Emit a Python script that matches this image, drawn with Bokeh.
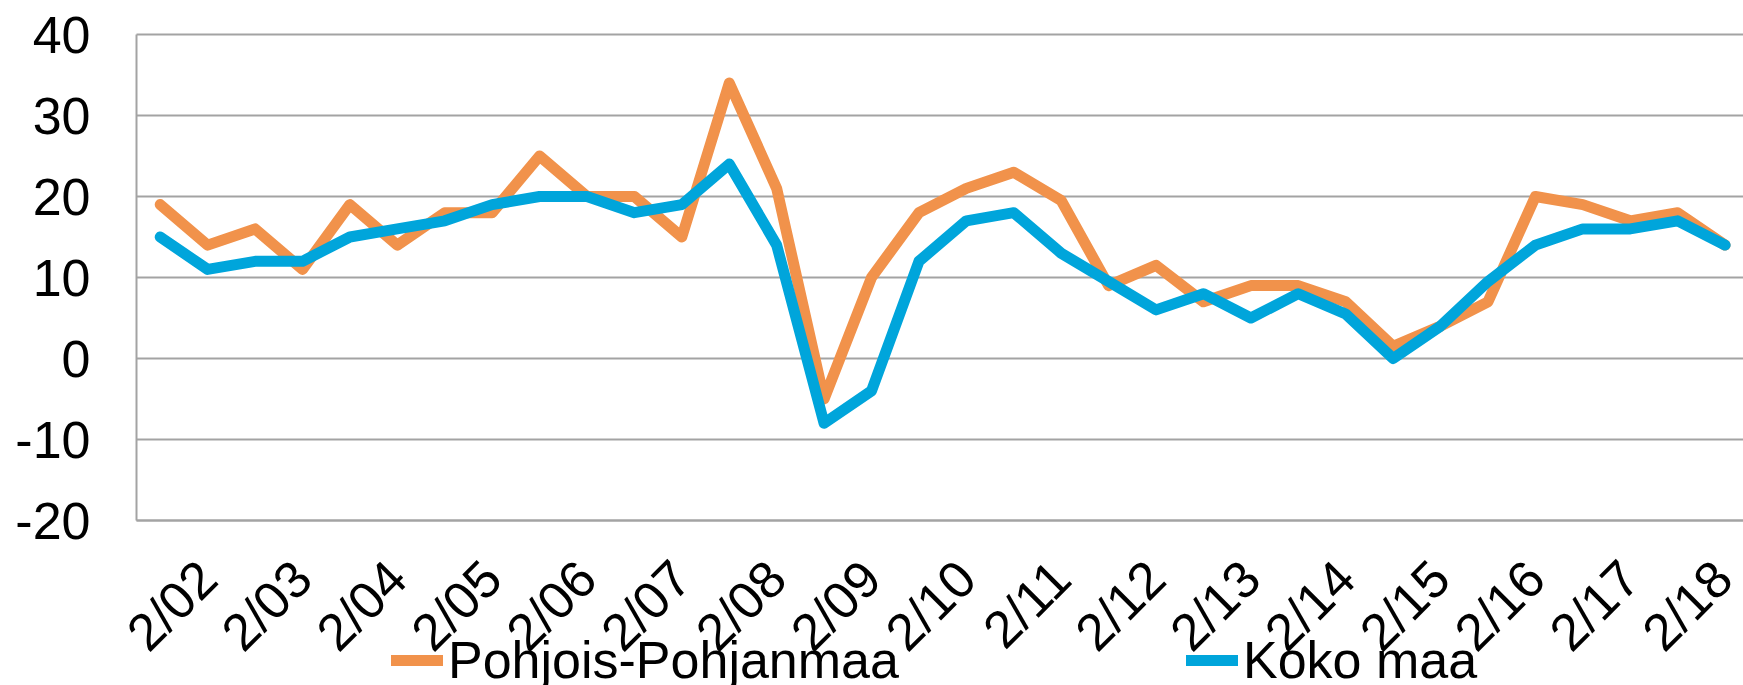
import math
from bokeh.plotting import figure
from bokeh.models import (Range1d, FixedTicker, Legend, LegendItem, ColumnDataSource,
                          Grid, BoxAnnotation)
from bokeh.embed import file_html
from bokeh.resources import INLINE

# ---- data -------------------------------------------------------------
periods = ["8/01"]
for yy in range(2, 19):
    periods.append("2/%02d" % yy)
    if yy < 18:
        periods.append("8/%02d" % yy)

pohjois_pohjanmaa = [19, 14, 16, 11, 19, 14, 18, 18, 25, 20,
                     20, 15, 34, 21, -5, 10, 18, 21, 23, 19.5,
                     9, 11.5, 7, 9, 9, 7, 1.5, 4, 7, 20,
                     19, 17, 18, 14]
koko_maa = [15, 11, 12, 12, 15, 16, 17, 19, 20, 20,
            18, 19, 24, 14, -8, -4, 12, 17, 18, 13,
            9.5, 6, 8, 5, 8, 5.5, 0, 4, 9.5, 14,
            16, 16, 17, 14]
series_names = ["Pohjois-Pohjanmaa", "Koko maa"]
series_colors = ["#F1924B", "#00A5DB"]
y_ticks = [-20, -10, 0, 10, 20, 30, 40]
y_tick_labels = {t: str(t) for t in y_ticks}   # plain hyphen-minus as in the original

x_idx = list(range(len(periods)))
tick_idx = [i for i in x_idx if periods[i].startswith("2/")]   # every second period labelled
tick_labels = {i: periods[i] for i in tick_idx}

src = ColumnDataSource(dict(x=x_idx, a=pohjois_pohjanmaa, b=koko_maa))

FONT = "Liberation Sans"
FS = "52px"
GRID = "#A3A3A3"

W, H = 1743, 685
LEFT, TOP = 136, 34          # pixel position of the plot area's left edge / top gridline
PX_PER_UNIT_Y = 8.1
PX_PER_STEP_X = 47.42
x_start = -0.5                # plot area begins half a category before the first point
y_top = max(y_ticks)
y_high = y_top + TOP / PX_PER_UNIT_Y
y_low = y_top - (H - TOP) / PX_PER_UNIT_Y
x_low = x_start - LEFT / PX_PER_STEP_X
x_high = x_start + (W - LEFT) / PX_PER_STEP_X

p = figure(width=W, height=H, output_backend="svg", toolbar_location=None,
           x_range=Range1d(x_low, x_high), y_range=Range1d(y_low, y_high),
           min_border_left=0, min_border_right=0, min_border_top=0,
           min_border_bottom=0)
p.outline_line_color = None
p.background_fill_color = "white"

r1 = p.line("x", "a", source=src, line_color=series_colors[0], line_width=11,
            line_cap="round", line_join="round")
r2 = p.line("x", "b", source=src, line_color=series_colors[1], line_width=11,
            line_cap="round", line_join="round")

# axes
p.xgrid.grid_line_color = None
p.ygrid.grid_line_color = GRID
p.ygrid.grid_line_width = 2
if "cross_bounds" in Grid.properties():
    p.ygrid.cross_bounds = (x_start, x_high)
else:
    p.add_layout(BoxAnnotation(right=x_start, fill_color="white", fill_alpha=1,
                               line_alpha=0, level="underlay"))
p.yaxis.ticker = FixedTicker(ticks=y_ticks)
p.yaxis.bounds = (min(y_ticks), max(y_ticks))
p.yaxis.fixed_location = x_start
p.yaxis.major_label_overrides = y_tick_labels
p.xaxis.ticker = FixedTicker(ticks=tick_idx)
p.xaxis.major_label_overrides = tick_labels
p.xaxis.fixed_location = min(y_ticks)
p.xaxis.bounds = (x_start, x_high)
for ax in (p.xaxis[0], p.yaxis[0]):
    ax.axis_line_color = GRID
    ax.axis_line_width = 2
    ax.major_tick_line_color = None
    ax.minor_tick_line_color = None
    ax.major_tick_out = 0
    ax.major_tick_in = 0
    ax.major_label_text_font = FONT
    ax.major_label_text_font_size = FS
    ax.major_label_text_color = "black"
p.yaxis.major_label_standoff = 46
p.xaxis.major_label_standoff = 49
p.xaxis.major_label_orientation = math.pi / 4

# legends (two, positioned like the original, below the category labels)
for r, name, xoff in ((r1, series_names[0], LEFT + 255), (r2, series_names[1], LEFT + 1050)):
    lg = Legend(items=[LegendItem(label=name, renderers=[r])],
                location=(xoff, -10), padding=0, margin=0,
                border_line_color=None, background_fill_alpha=0,
                glyph_width=52, glyph_height=70, label_height=70,
                label_standoff=5,
                label_text_font=FONT, label_text_font_size=FS,
                label_text_color="black")
    p.add_layout(lg, "center")

open("out.html", "w").write(file_html(p, INLINE))
